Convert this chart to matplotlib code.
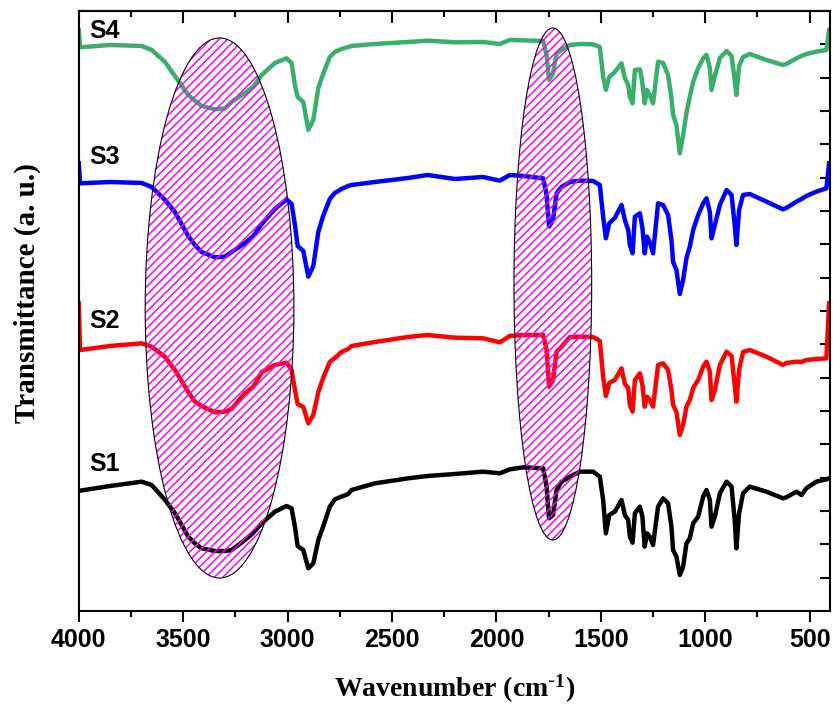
import matplotlib
matplotlib.use('Agg')
import matplotlib.pyplot as plt
from matplotlib.patches import Ellipse
from matplotlib.ticker import MultipleLocator

plt.rcParams['mathtext.default'] = 'regular'
plt.rcParams['hatch.linewidth'] = 1.1

# wavenumber grid (cm-1) shared by all spectra
wavenumber = [4000, 3994, 3850, 3699, 3651, 3587, 3540, 3476, 3444, 3412,
              3348, 3300, 3268, 3204, 3164, 3124, 3061, 3005, 2981, 2965,
              2952, 2925, 2901, 2877, 2853, 2830, 2798, 2774, 2742, 2710,
              2694, 2582, 2423, 2330, 2199, 2064, 1984, 1936, 1872, 1776,
              1760, 1748, 1729, 1712, 1688, 1648, 1600, 1537, 1505, 1489,
              1476, 1460, 1433, 1401, 1385, 1369, 1361, 1348, 1337, 1313,
              1301, 1290, 1279, 1266, 1250, 1226, 1202, 1178, 1162, 1154,
              1138, 1122, 1106, 1090, 1074, 1058, 1034, 1010, 994, 978,
              970, 954, 930, 898, 874, 859, 851, 838, 819, 787,
              707, 628, 612, 563, 539, 516, 468, 420, 407]

# stacked transmittance (a. u.)
s1 = [3.61, 3.61, 3.75, 3.88, 3.78, 3.33, 2.94, 2.23, 2.03, 1.88,
      1.80, 1.80, 1.83, 2.13, 2.35, 2.63, 2.98, 3.15, 3.08, 2.53,
      1.95, 1.83, 1.28, 1.43, 2.13, 2.53, 3.13, 3.35, 3.43, 3.51,
      3.63, 3.83, 3.98, 4.05, 4.11, 4.18, 4.13, 4.25, 4.31, 4.28,
      3.73, 2.78, 2.88, 3.63, 3.88, 4.03, 4.18, 4.18, 4.03, 3.33,
      2.33, 2.88, 2.98, 3.33, 2.88, 2.73, 2.23, 2.05, 2.93, 3.13,
      2.83, 1.93, 2.33, 2.23, 1.98, 3.13, 3.38, 3.23, 2.53, 1.83,
      1.63, 1.08, 1.33, 2.03, 2.18, 2.63, 2.83, 3.43, 3.63, 3.33,
      2.53, 2.83, 3.53, 3.88, 3.73, 2.73, 1.88, 2.93, 3.53, 3.73,
      3.58, 3.38, 3.41, 3.58, 3.48, 3.68, 3.88, 3.95, 3.98]

s2 = [9.23, 7.83, 7.95, 8.03, 7.93, 7.62, 7.23, 6.57, 6.28, 6.15,
      5.96, 5.98, 6.06, 6.54, 6.73, 7.17, 7.38, 7.45, 7.23, 6.63,
      6.21, 6.12, 5.63, 5.88, 6.57, 6.99, 7.47, 7.59, 7.77, 7.86,
      7.95, 8.07, 8.22, 8.28, 8.20, 8.18, 8.06, 8.25, 8.28, 8.28,
      7.83, 6.73, 6.93, 7.78, 7.93, 8.22, 8.23, 8.22, 8.10, 7.03,
      6.45, 6.84, 6.93, 7.28, 6.81, 6.69, 6.18, 5.98, 6.93, 7.13,
      6.78, 6.13, 6.43, 6.33, 6.13, 7.38, 7.43, 7.23, 6.63, 6.18,
      5.97, 5.28, 5.58, 6.13, 6.33, 6.69, 6.93, 7.33, 7.48, 7.17,
      6.33, 6.63, 7.38, 7.78, 7.65, 6.78, 6.28, 7.23, 7.77, 7.83,
      7.63, 7.38, 7.44, 7.48, 7.47, 7.53, 7.56, 7.58, 9.23]

s3 = [13.43, 12.83, 12.87, 12.84, 12.72, 12.33, 11.97, 11.25, 10.98, 10.77,
      10.61, 10.63, 10.77, 11.04, 11.25, 11.61, 12.06, 12.35, 12.21, 11.58,
      10.95, 10.80, 10.03, 10.35, 11.37, 11.85, 12.36, 12.54, 12.66, 12.75,
      12.78, 12.87, 12.99, 13.08, 12.96, 13.02, 12.91, 13.08, 13.05, 12.98,
      12.48, 11.53, 11.73, 12.53, 12.72, 12.87, 12.91, 12.90, 12.78, 11.83,
      11.18, 11.63, 11.79, 12.18, 11.73, 11.43, 10.98, 10.73, 11.83, 11.93,
      11.49, 10.73, 11.23, 11.07, 10.73, 12.23, 12.18, 11.88, 11.13, 10.47,
      10.23, 9.51, 9.93, 10.59, 10.93, 11.43, 11.88, 12.23, 12.38, 11.97,
      11.18, 11.58, 12.18, 12.63, 12.48, 11.58, 10.98, 12.03, 12.48, 12.51,
      12.28, 12.05, 12.09, 12.28, 12.36, 12.45, 12.58, 12.68, 13.43]

s4 = [17.43, 16.91, 16.98, 16.95, 16.83, 16.47, 16.05, 15.48, 15.31, 15.15,
      15.05, 15.08, 15.27, 15.54, 15.73, 16.08, 16.44, 16.58, 16.44, 15.78,
      15.42, 15.27, 14.43, 14.73, 15.69, 16.11, 16.62, 16.77, 16.86, 16.92,
      16.95, 17.01, 17.07, 17.11, 17.06, 17.07, 17.01, 17.13, 17.12, 17.10,
      16.68, 15.93, 16.13, 16.73, 16.83, 16.98, 17.01, 17.00, 16.92, 16.03,
      15.63, 16.02, 16.17, 16.43, 15.99, 15.78, 15.42, 15.23, 16.23, 16.25,
      15.84, 15.23, 15.63, 15.48, 15.23, 16.48, 16.44, 16.08, 15.39, 14.88,
      14.58, 13.73, 14.28, 14.94, 15.43, 15.87, 16.29, 16.58, 16.68, 16.29,
      15.63, 16.05, 16.59, 16.80, 16.65, 15.93, 15.48, 16.35, 16.62, 16.71,
      16.53, 16.38, 16.41, 16.58, 16.65, 16.71, 16.78, 16.83, 17.43]

labels = ['S1', 'S2', 'S3', 'S4']
label_y = [4.41, 8.70, 13.62, 17.40]
colors = ['black', '#ff0000', '#0000ff', '#3aae6c']

# highlighted bands: (centre wavenumber, centre y, width, height)
bands = [(3326, 9.09, 712, 16.2), (1730, 9.81, 372, 15.36)]

fig = plt.figure(figsize=(8.33, 7.08), dpi=100)
ax = fig.add_axes([0.0946, 0.137, 0.9012, 0.8475])

for ys, c in zip([s1, s2, s3, s4], colors):
    ax.plot(wavenumber, ys, color=c, lw=3.2, solid_joinstyle='round', zorder=2)

for lab, y in zip(labels, label_y):
    ax.text(3951, y, lab, fontsize=18, fontweight='bold', family='Liberation Sans',
            va='center', ha='left')

for cx, cy, w, h in bands:
    ax.add_patch(Ellipse((cx, cy), w, h, facecolor='none', edgecolor='#ff00ff',
                         hatch='////', lw=0, zorder=3))
    ax.add_patch(Ellipse((cx, cy), w, h, facecolor='none', edgecolor='black',
                         lw=0.8, zorder=4))

ax.set_xlim(4000, 405)
ax.set_ylim(0, 18)

ax.xaxis.set_major_locator(MultipleLocator(500))
ax.xaxis.set_minor_locator(MultipleLocator(250))
ax.tick_params(axis='x', which='major', direction='out', length=8, width=1.5,
               labelsize=18, pad=4)
ax.tick_params(axis='x', which='minor', direction='out', length=4.5, width=1.5)
for t in ax.get_xticklabels():
    t.set_fontweight('bold')
    t.set_family('Liberation Sans')

ax.set_yticks(range(1, 18))
ax.tick_params(axis='y', which='both', left=False, right=True, labelleft=False,
               direction='in', length=7, width=1.5)

top = ax.secondary_xaxis('top')
top.xaxis.set_major_locator(MultipleLocator(500))
top.xaxis.set_minor_locator(MultipleLocator(250))
top.tick_params(axis='x', which='major', direction='in', length=8.5, width=1.5,
                labeltop=False)
top.tick_params(axis='x', which='minor', direction='in', length=4.5, width=1.5)
top.spines['top'].set_linewidth(1.5)

for s in ax.spines.values():
    s.set_linewidth(1.5)

ax.set_xlabel(r'Wavenumber (cm$^{\text{-}1}$)', fontsize=20, fontweight='bold',
              family='Liberation Serif')
ax.xaxis.set_label_coords(0.5, -0.103)
ax.xaxis.label.set_va('top')
ax.set_ylabel('Transmittance (a. u.)', fontsize=21, fontweight='bold',
              family='Liberation Serif')
ax.yaxis.set_label_coords(-0.05, 0.53)

fig.savefig('out.png', dpi=100)
